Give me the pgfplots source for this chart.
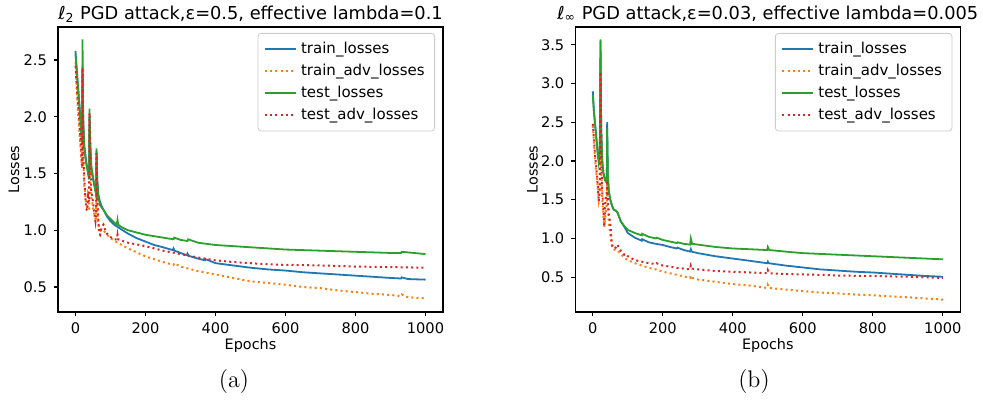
\documentclass[border=0pt]{standalone}
\usepackage{fontspec}
\setmainfont{DejaVu Sans}
\usepackage{pgfplots}
\pgfplotsset{compat=1.18}

\definecolor{tabblue}{HTML}{1F77B4}
\definecolor{taborange}{HTML}{FF7F0E}
\definecolor{tabgreen}{HTML}{2CA02C}
\definecolor{tabred}{HTML}{D62728}

\tikzset{
  trainl/.style={draw=tabblue, line width=0.9pt},
  trainadv/.style={draw=taborange, line width=1pt, dash pattern=on 1pt off 1.6pt},
  testl/.style={draw=tabgreen, line width=0.9pt},
  testadv/.style={draw=tabred, line width=1pt, dash pattern=on 1pt off 1.6pt},
}

\pgfplotsset{
  lossaxis/.style={
    scale only axis,
    width=192.5pt, height=142.5pt,
    xmin=-50, xmax=1050,
    xtick={0,200,400,600,800,1000},
    tick align=outside,
    tick pos=left,
    major tick length=2pt,
    axis line style={line width=0.6pt},
    every tick/.style={black, line width=0.6pt},
    /pgf/number format/assume math mode=true,
    /pgf/number format/1000 sep={},
    yticklabel style={/pgf/number format/fixed, /pgf/number format/fixed zerofill, /pgf/number format/precision=1},
    tick label style={font=\fontsize{7.3}{8.8}\selectfont},
    label style={font=\fontsize{7.2}{8.6}\selectfont},
    title style={font=\fontsize{8.9}{10.7}\selectfont, at={(rel axis cs:0.5,1)}, anchor=center, yshift=0.5pt},
    xlabel={Epochs},
    ylabel={Losses},
    xlabel style={at={(rel axis cs:0.5,0)}, anchor=center, yshift=-17pt},
    legend cell align=left,
    legend style={at={(1,1)}, anchor=north east, xshift=-4pt, yshift=-3pt,
      draw=black!20, rounded corners=1.5pt, fill=white,
      font=\fontsize{7.5}{9}\selectfont, row sep=0pt, nodes={inner ysep=1.95pt},
      inner xsep=3pt, inner ysep=2.2pt},
  },
  % legend images drawn with the series' own style
  img/.style={legend image code/.code={\draw[#1] (0pt,0pt) -- (15.5pt,0pt);}},
}

\begin{document}
\begin{tikzpicture}
\path[use as bounding box] (-29pt,-44pt) rectangle (462.5pt,156pt);

% (a) l2 attack
\begin{axis}[lossaxis, at={(0pt,0pt)}, anchor=south west,
  ymin=0.28, ymax=2.79, ytick={0.5,1.0,1.5,2.0,2.5},
  ylabel style={at={(rel axis cs:0,0.5)}, anchor=center, yshift=22pt},
  title={ℓ\textsubscript{2} PGD attack,ε=0.5, effective lambda=0.1}]
\addplot[trainl, img=trainl] coordinates {
(0,2.58)(5,2.35)(10,2.15)(15,1.95)(19,1.75)(20,2.45)(22,1.95)(25,1.75)(30,1.62)(35,1.52)
(39,1.45)(40,2.0)(42,1.75)(45,1.55)(50,1.45)(55,1.38)(59,1.32)(60,1.70)(62,1.45)(65,1.32)
(70,1.25)(75,1.21)(80,1.18)(90,1.12)(100,1.08)(110,1.05)(120,1.03)(130,1.01)(150,0.97)(175,0.93)
(200,0.90)(225,0.87)(250,0.85)(278,0.825)(280,0.84)(283,0.82)(300,0.80)(318,0.78)(320,0.795)(323,0.775)
(350,0.75)(370,0.735)(372,0.745)(400,0.71)(450,0.69)(500,0.67)(550,0.655)(600,0.645)(650,0.63)(700,0.62)
(750,0.61)(800,0.60)(850,0.59)(900,0.58)(930,0.575)(932,0.585)(950,0.57)(1000,0.565)
};
\addlegendentry{train\_losses}
\addplot[trainadv, img=trainadv] coordinates {
(0,2.48)(5,2.15)(10,1.9)(15,1.7)(19,1.55)(20,2.2)(22,1.6)(25,1.4)(30,1.25)(35,1.2)
(39,1.18)(40,1.9)(42,1.45)(45,1.3)(50,1.2)(55,1.12)(59,1.08)(60,1.55)(62,1.2)(65,1.05)
(70,1.0)(75,0.99)(80,1.0)(90,0.96)(100,0.93)(110,0.91)(120,0.89)(150,0.84)(200,0.77)(250,0.72)
(280,0.695)(282,0.71)(300,0.68)(350,0.64)(400,0.61)(450,0.58)(500,0.55)(550,0.535)(600,0.52)(650,0.50)
(700,0.49)(750,0.47)(800,0.455)(850,0.44)(900,0.43)(930,0.42)(932,0.435)(950,0.41)(1000,0.40)
};
\addlegendentry{train\_adv\_losses}
\addplot[testl, img=testl] coordinates {
(0,2.55)(5,2.35)(10,2.15)(15,1.92)(19,1.75)(20,2.68)(22,2.0)(25,1.72)(30,1.60)(35,1.52)
(39,1.45)(40,2.07)(42,1.8)(45,1.57)(50,1.47)(55,1.38)(59,1.32)(60,1.72)(62,1.45)(65,1.30)
(70,1.22)(75,1.20)(80,1.18)(90,1.13)(100,1.10)(110,1.07)(118,1.05)(120,1.09)(122,1.05)(130,1.03)
(150,1.00)(175,0.98)(200,0.96)(250,0.935)(280,0.92)(282,0.935)(300,0.915)(320,0.905)(322,0.92)(350,0.89)
(400,0.87)(450,0.86)(500,0.85)(550,0.84)(600,0.83)(700,0.82)(800,0.81)(900,0.80)(930,0.80)(932,0.81)
(1000,0.79)
};
\addlegendentry{test\_losses}
\addplot[testadv, img=testadv] coordinates {
(0,2.45)(5,2.2)(10,2.0)(15,1.75)(19,1.55)(20,2.43)(22,1.7)(25,1.45)(30,1.2)(33,1.17)
(36,1.3)(39,1.25)(40,2.03)(42,1.6)(45,1.35)(50,1.25)(55,1.12)(57,1.08)(59,1.15)(60,1.68)
(62,1.3)(65,1.1)(68,0.97)(70,0.96)(75,1.03)(80,1.05)(85,1.0)(90,0.97)(100,0.94)(110,0.92)
(118,0.92)(120,0.96)(122,0.92)(130,0.91)(150,0.89)(200,0.86)(250,0.82)(300,0.79)(350,0.76)(400,0.735)
(450,0.72)(500,0.71)(550,0.70)(600,0.695)(700,0.69)(800,0.68)(900,0.675)(1000,0.67)
};
\addlegendentry{test\_adv\_losses}
\end{axis}

% (b) linf attack
\begin{axis}[lossaxis, at={(258.65pt,0pt)}, anchor=south west,
  ymin=0.05, ymax=3.73, ytick={0.5,1.0,1.5,2.0,2.5,3.0,3.5},
  ylabel style={at={(rel axis cs:0,0.5)}, anchor=center, yshift=21.4pt},
  title={ℓ\textsubscript{∞} PGD attack,ε=0.03, effective lambda=0.005}]
\addplot[trainl, img=trainl] coordinates {
(0,2.9)(3,2.65)(6,2.5)(10,2.3)(14,2.1)(17,2.0)(20,2.1)(22,3.55)(24,2.4)(27,2.0)
(30,1.85)(35,1.75)(40,1.72)(41,2.5)(43,1.8)(46,1.6)(50,1.5)(55,1.42)(60,1.37)(65,1.36)
(70,1.34)(75,1.28)(80,1.22)(90,1.15)(100,1.07)(110,1.04)(120,1.01)(140,0.97)(141,0.99)(160,0.95)
(180,0.93)(200,0.915)(220,0.89)(240,0.87)(242,0.88)(260,0.85)(278,0.83)(280,0.86)(282,0.83)(300,0.81)
(350,0.77)(400,0.74)(450,0.71)(498,0.68)(500,0.70)(502,0.68)(550,0.65)(600,0.625)(650,0.60)(700,0.585)
(750,0.57)(800,0.56)(850,0.545)(900,0.53)(950,0.515)(1000,0.505)
};
\addlegendentry{train\_losses}
\addplot[trainadv, img=trainadv] coordinates {
(0,2.45)(3,2.25)(6,2.05)(10,1.85)(14,1.65)(17,1.5)(20,1.6)(22,2.9)(24,1.9)(27,1.5)
(30,1.3)(33,1.15)(36,1.3)(40,1.45)(41,1.7)(43,1.45)(46,1.2)(50,1.05)(53,0.95)(56,0.88)
(60,0.86)(65,0.85)(70,0.85)(80,0.80)(90,0.75)(100,0.72)(120,0.68)(140,0.65)(160,0.62)(180,0.60)
(200,0.57)(240,0.53)(260,0.51)(278,0.49)(280,0.52)(284,0.49)(300,0.47)(350,0.44)(400,0.41)(450,0.39)
(498,0.36)(500,0.40)(504,0.36)(550,0.34)(600,0.32)(650,0.30)(700,0.29)(750,0.275)(800,0.265)(900,0.24)
(1000,0.21)
};
\addlegendentry{train\_adv\_losses}
\addplot[testl, img=testl] coordinates {
(0,2.85)(3,2.65)(6,2.5)(10,2.3)(14,2.1)(17,1.98)(20,2.1)(22,3.57)(24,2.4)(27,2.0)
(30,1.85)(35,1.75)(40,1.72)(41,2.42)(43,1.8)(46,1.6)(50,1.5)(55,1.42)(60,1.37)(65,1.36)
(70,1.34)(75,1.28)(80,1.22)(90,1.16)(100,1.11)(120,1.07)(140,1.04)(141,1.06)(160,1.02)(180,1.0)
(182,1.01)(200,0.98)(240,0.94)(242,0.95)(260,0.93)(278,0.92)(280,1.0)(284,0.93)(300,0.92)(350,0.89)
(400,0.87)(450,0.86)(498,0.85)(500,0.89)(504,0.85)(550,0.83)(600,0.81)(650,0.80)(700,0.79)(750,0.78)
(800,0.77)(900,0.75)(1000,0.73)
};
\addlegendentry{test\_losses}
\addplot[testadv, img=testadv] coordinates {
(0,2.48)(3,2.3)(6,2.1)(10,1.9)(14,1.7)(17,1.48)(20,1.65)(22,3.15)(24,2.0)(27,1.6)
(30,1.4)(33,1.15)(36,1.5)(40,1.6)(41,1.75)(43,1.5)(46,1.3)(50,1.2)(53,1.0)(56,0.9)
(60,0.87)(65,0.88)(70,0.92)(75,0.88)(80,0.84)(90,0.79)(95,0.80)(100,0.77)(120,0.72)(140,0.70)
(160,0.68)(180,0.67)(182,0.68)(200,0.65)(240,0.62)(260,0.61)(278,0.60)(280,0.65)(284,0.61)(300,0.60)
(350,0.58)(400,0.57)(450,0.56)(498,0.55)(500,0.59)(504,0.55)(550,0.54)(600,0.535)(650,0.53)(700,0.52)
(800,0.515)(900,0.505)(1000,0.49)
};
\addlegendentry{test\_adv\_losses}
\end{axis}

\node[font=\fontfamily{lmr}\fontsize{12}{14}\selectfont] at (88pt,-35pt) {(a)};
\node[font=\fontfamily{lmr}\fontsize{12}{14}\selectfont] at (348pt,-35pt) {(b)};
\end{tikzpicture}
\end{document}
